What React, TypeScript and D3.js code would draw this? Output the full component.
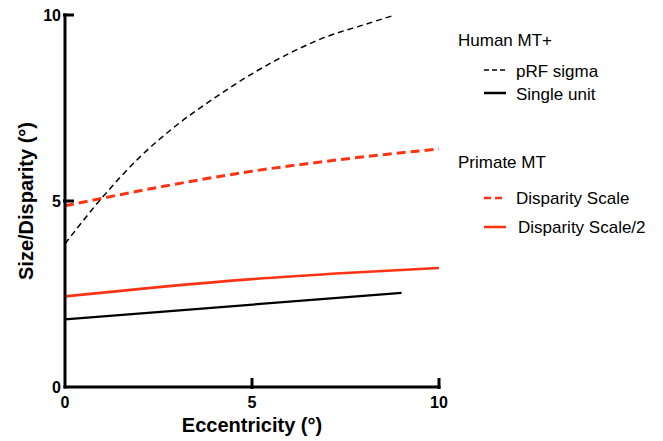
import React from "react";
import * as d3 from "d3";

// eccentricity (deg) vs size / disparity (deg)
const prfEcc = [0, 1, 2, 3, 4, 5, 6, 7, 8, 8.82];
const prfSigma = [3.85, 5.1, 6.18, 7.05, 7.77, 8.42, 8.97, 9.42, 9.74, 10];

const unitEcc = [0, 9];
const unitSize = [1.82, 2.53];

const dispEcc = [0, 2.5, 5, 7.5, 10];
const dispScale = [4.87, 5.37, 5.8, 6.13, 6.4];
const dispHalf = dispScale.map(d => d / 2);

const xTickVals = [0, 5, 10];
const yTickVals = [0, 5, 10];

const RED = "#ff3314";

type Pt = [number, number];

const App = () => {
  const width = 663, height = 441;
  const left = 65, right = 439, top = 15, bottom = 387;

  const x = d3.scaleLinear().domain([0, 10]).range([left, right]);
  const y = d3.scaleLinear().domain([0, 10]).range([bottom, top]);

  const line = d3.line<Pt>()
    .x(d => x(d[0]))
    .y(d => y(d[1]))
    .curve(d3.curveMonotoneX);

  const zip = (a: number[], b: number[]): Pt[] => a.map((v, i) => [v, b[i]]);

  const font = "Arial, 'Liberation Sans', Helvetica, sans-serif";

  const legend = [
    { label: "pRF sigma", y: 70, ty: 77, color: "#000", w: 1.6, dash: "5,3", tx: 516 },
    { label: "Single unit", y: 93, ty: 100, color: "#000", w: 2.5, dash: null, tx: 516 },
    { label: "Disparity Scale", y: 198, ty: 204, color: RED, w: 2.5, dash: "7,4", tx: 516 },
    { label: "Disparity Scale/2", y: 227, ty: 233, color: RED, w: 2.5, dash: null, tx: 518 },
  ];

  return (
    <svg width={width} height={height} style={{ position: "absolute", left: 0, top: 0 }} fontFamily={font}>
      <rect width={width} height={height} fill="#fff" />

      {/* data lines */}
      <path d={line(zip(unitEcc, unitSize)) || ""} fill="none" stroke="#000" strokeWidth={2.2} />
      <path d={line(zip(dispEcc, dispHalf)) || ""} fill="none" stroke={RED} strokeWidth={2.6} />
      <path d={line(zip(dispEcc, dispScale)) || ""} fill="none" stroke={RED} strokeWidth={3} strokeDasharray="9,5" />
      <path d={line(zip(prfEcc, prfSigma)) || ""} fill="none" stroke="#000" strokeWidth={1.5} strokeDasharray="6,4" />

      {/* axes */}
      <line x1={left} x2={left} y1={top - 1.5} y2={bottom + 1.5} stroke="#000" strokeWidth={3} />
      <line x1={left - 1.5} x2={right + 1.5} y1={bottom} y2={bottom} stroke="#000" strokeWidth={3} />

      {yTickVals.map(d => (
        <g key={"y" + d} transform={`translate(${left},${y(d)})`}>
          {d > 0 && <line x1={-2} x2={9} stroke="#000" strokeWidth={3} />}
          <text x={-4} dy="0.36em" textAnchor="end" fontSize={16} fontWeight="bold">{d}</text>
        </g>
      ))}
      {xTickVals.map(d => (
        <g key={"x" + d} transform={`translate(${x(d)},${bottom})`}>
          {d > 0 && <line y1={2} y2={-9} stroke="#000" strokeWidth={3} />}
          <text y={21} textAnchor="middle" fontSize={16} fontWeight="bold">{d}</text>
        </g>
      ))}

      <text x={x(5)} y={432} textAnchor="middle" fontSize={20} fontWeight="bold">Eccentricity (°)</text>
      <text transform={`translate(33,${y(5)}) rotate(-90)`} textAnchor="middle" fontSize={20} fontWeight="bold">Size/Disparity (°)</text>

      {/* legend */}
      <text x={458} y={46} fontSize={17}>Human MT+</text>
      <text x={458} y={168} fontSize={17}>Primate MT</text>
      {legend.map(l => (
        <g key={l.label}>
          <line x1={484} x2={506} y1={l.y} y2={l.y} stroke={l.color} strokeWidth={l.w}
            strokeDasharray={l.dash || undefined} />
          <text x={l.tx} y={l.ty} fontSize={17}>{l.label}</text>
        </g>
      ))}
    </svg>
  );
};

export default App;
